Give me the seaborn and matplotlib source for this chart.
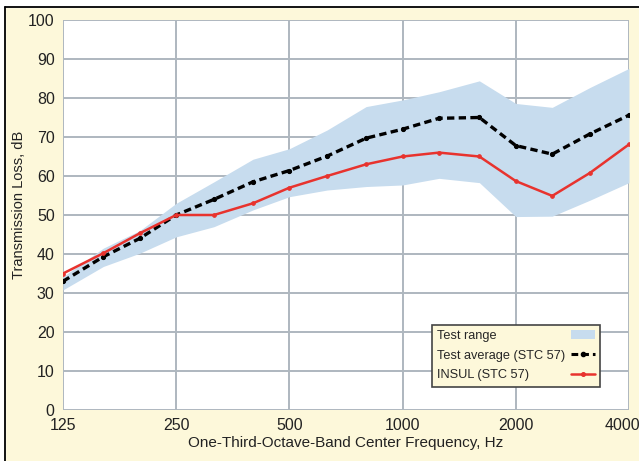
import numpy as np
import pandas as pd
import matplotlib
matplotlib.use("Agg")
import matplotlib.pyplot as plt
import matplotlib.transforms as mtrans
from matplotlib.lines import Line2D
from matplotlib.patches import Patch, Rectangle
import seaborn as sns

# one-third-octave band centres (Hz)
freqs = [125, 160, 200, 250, 315, 400, 500, 630, 800, 1000,
         1250, 1600, 2000, 2500, 3150, 4000]
range_low = [30.8, 36.8, 40.2, 44.4, 47, 51.3, 54.7, 56.4, 57.3, 57.7,
             59.4, 58.3, 49.6, 49.7, 53.8, 58.3]
range_high = [34.2, 41.5, 46, 53, 58.5, 64.3, 67, 71.8, 77.8, 79.5,
              81.6, 84.4, 78.6, 77.6, 82.7, 87.6]
test_avg = [33, 39.3, 44, 50, 54, 58.5, 61.4, 65.1, 69.7, 72,
            74.8, 75, 67.8, 65.6, 70.8, 75.6]
insul = [35, 40.2, 45.3, 50, 50, 53, 57, 60, 63, 65,
         66, 65, 58.7, 54.9, 60.8, 68.1]
xtick_vals = [125, 250, 500, 1000, 2000, 4000]

BG = "#fdf8da"
BAND = "#c7dcee"
RED = "#e8332e"
GRID = "#aeb7bf"
TXT = "#222222"

sns.set_style("white")
plt.rcParams["font.family"] = ["Liberation Sans", "DejaVu Sans"]

df = pd.DataFrame({"freq": freqs, "avg": test_avg, "insul": insul})

fig = plt.figure(figsize=(6.39, 4.61), dpi=100, facecolor=BG)
ax = fig.add_axes([63/639, 1-410/461, 566/639, 390/461])
ax.set_facecolor("white")

ax.fill_between(freqs, range_low, range_high, color=BAND, lw=0, zorder=1)
sns.lineplot(data=df, x="freq", y="avg", ax=ax, color="black", lw=2.4,
             ls=(0, (2.2, 1.3)), marker="o", ms=3, mec="black", zorder=3)
sns.lineplot(data=df, x="freq", y="insul", ax=ax, color=RED, lw=1.8,
             marker="o", ms=2.6, mec=RED, zorder=4)

ax.set_xscale("log")
ax.set_xlim(125, 4000)
ax.set_ylim(0, 100)
ax.set_xticks(xtick_vals)
ax.set_xticklabels([str(v) for v in xtick_vals])
ax.xaxis.set_minor_locator(matplotlib.ticker.NullLocator())
ax.set_yticks(np.arange(0, 101, 10))
ax.grid(True, color=GRID, lw=1.4, zorder=0)
ax.set_axisbelow(True)
for s in ax.spines.values():
    s.set_visible(False)
ax.tick_params(length=0, labelsize=11.5, colors=TXT, pad=6)
# last x label sits a bit left so it stays inside the figure
lab = ax.get_xticklabels()[-1]
lab.set_transform(lab.get_transform() +
                  mtrans.ScaledTranslation(-0.07, 0, fig.dpi_scale_trans))

ax.set_xlabel("One-Third-Octave-Band Center Frequency, Hz", fontsize=11,
              color=TXT, labelpad=2)
ax.set_ylabel("Transmission Loss, dB", fontsize=10.5, color=TXT)
ax.yaxis.set_label_coords(-0.066, 0.526)

handles = [
    Patch(facecolor=BAND, edgecolor="none"),
    Line2D([], [], color="black", lw=2.2, ls=(0, (2.2, 1.3)), marker="o", ms=3),
    Line2D([], [], color=RED, lw=1.8, marker="o", ms=2.6),
]
labels = ["Test range", "Test average (STC 57)", "INSUL (STC 57)"]
leg_fs = 9.2
leg = ax.legend(handles, labels, loc="lower right",
                bbox_to_anchor=(0.949, 0.06), markerfirst=False,
                fontsize=leg_fs, frameon=True, fancybox=False, framealpha=1,
                facecolor=BG, edgecolor="#444444", handlelength=1.9,
                borderpad=0.4, labelspacing=0.6, handletextpad=0.4,
                borderaxespad=0)
leg.get_frame().set_linewidth(1.2)

# left-align the legend texts while keeping the handles on the right
fig.canvas.draw()
rend = fig.canvas.get_renderer()
widths = [t.get_window_extent(rend).width for t in leg.get_texts()]
wmax = max(widths)
items = [ib for col in leg._legend_handle_box.get_children()
         for ib in col.get_children()]
for ib, w in zip(items, widths):
    ib.sep = 0.4 * leg_fs + (wmax - w) * 72 / fig.dpi

# black frame lines around the figure (top and left)
fig.add_artist(Rectangle((0, 1-7/461), 1, 7/461, color="white",
                         transform=fig.transFigure, zorder=-1))
fig.add_artist(Rectangle((0, 0), 5/639, 1, color="white",
                         transform=fig.transFigure, zorder=-1))
fig.add_artist(Line2D([5/639, 1], [1-7/461, 1-7/461], color="black", lw=1.3,
                      transform=fig.transFigure))
fig.add_artist(Line2D([5/639, 5/639], [0, 1-7/461], color="black", lw=1.3,
                      transform=fig.transFigure))

fig.savefig("out.png", dpi=100, facecolor=BG)
